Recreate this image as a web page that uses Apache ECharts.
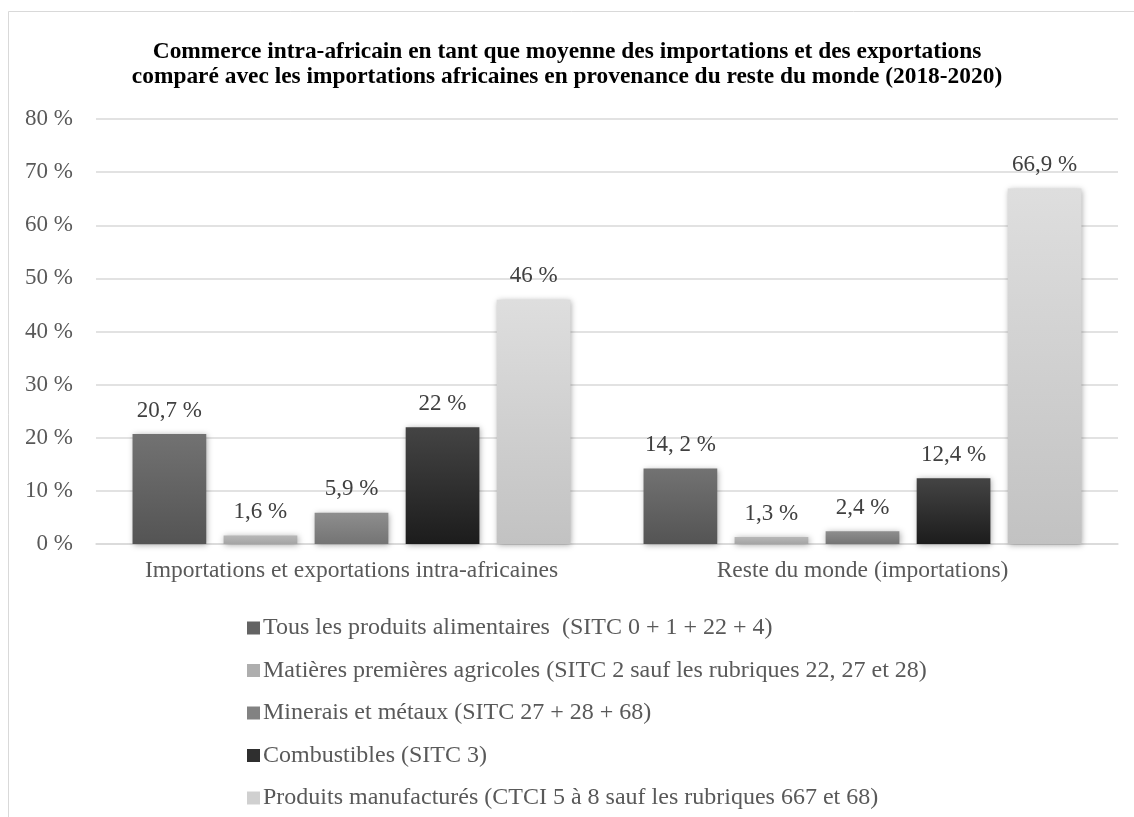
<!DOCTYPE html>
<html><head><meta charset="utf-8">
<script src="https://cdn.jsdelivr.net/npm/echarts@6/dist/echarts.min.js"></script>
<style>html,body{margin:0;padding:0;background:#fff}#c{width:1134px;height:817px}</style>
</head><body><div id="c"></div>
<script>
var titleText = 'Commerce intra-africain en tant que moyenne des importations et des exportations\ncomparé avec les importations africaines en provenance du reste du monde (2018-2020)';
var categories = ['Importations et exportations intra-africaines', 'Reste du monde (importations)'];
var seriesNames = [
  'Tous les produits alimentaires  (SITC 0 + 1 + 22 + 4)',
  'Matières premières agricoles (SITC 2 sauf les rubriques 22, 27 et 28)',
  'Minerais et métaux (SITC 27 + 28 + 68)',
  'Combustibles (SITC 3)',
  'Produits manufacturés (CTCI 5 à 8 sauf les rubriques 667 et 68)'
];
var foodValues = [20.7, 14.2];
var agriValues = [1.6, 1.3];
var mineralValues = [5.9, 2.4];
var fuelValues = [22, 12.4];
var manufValues = [46, 66.9];
var foodLabels = ['20,7 %', '14, 2 %'];
var agriLabels = ['1,6 %', '1,3 %'];
var mineralLabels = ['5,9 %', '2,4 %'];
var fuelLabels = ['22 %', '12,4 %'];
var manufLabels = ['46 %', '66,9 %'];
var yTicks = [0, 10, 20, 30, 40, 50, 60, 70, 80];

var allValues = [foodValues, agriValues, mineralValues, fuelValues, manufValues];
var allLabels = [foodLabels, agriLabels, mineralLabels, fuelLabels, manufLabels];
var gradients = [
  ['#727272', '#545454'],
  ['#b8b8b8', '#a4a4a4'],
  ['#8e8e8e', '#747474'],
  ['#444444', '#1c1c1c'],
  ['#dedede', '#c2c2c2']
];
var legendColors = ['#636363', '#aeaeae', '#828282', '#2f2f2f', '#d0d0d0'];
var FONT = '"Liberation Serif", "Times New Roman", serif';

var chart = echarts.init(document.getElementById('c'));
var series = allValues.map(function (vals, i) {
  return {
    name: seriesNames[i],
    type: 'bar',
    data: vals.map(function (v, j) { return { value: v, labelText: allLabels[i][j] }; }),
    barGap: '23.5%',
    barCategoryGap: '14.3%',
    itemStyle: {
      color: new echarts.graphic.LinearGradient(0, 0, 0, 1, [
        { offset: 0, color: gradients[i][0] },
        { offset: 1, color: gradients[i][1] }
      ]),
      shadowColor: 'rgba(0,0,0,0.35)',
      shadowBlur: 6,
      shadowOffsetX: 1,
      shadowOffsetY: 1
    },
    label: {
      show: true,
      position: 'top',
      distance: 12,
      fontFamily: FONT,
      fontSize: 23,
      color: '#404040',
      formatter: function (p) { return p.data.labelText; }
    }
  };
});

chart.setOption({
  backgroundColor: '#fff',
  animation: false,
  title: {
    text: titleText,
    left: 'center',
    top: 34,
    textStyle: { fontFamily: FONT, fontSize: 23.4, fontWeight: 'bold', color: '#000', lineHeight: 25 }
  },
  graphic: [{
    type: 'rect',
    shape: { x: 8.5, y: 11.5, width: 1140, height: 830 },
    style: { fill: 'none', stroke: '#d9d9d9', lineWidth: 1 },
    silent: true
  }],
  legend: {
    orient: 'vertical',
    left: 242,
    top: 611,
    itemGap: 18.5,
    itemWidth: 13,
    itemHeight: 13,
    icon: 'rect',
    textStyle: { fontFamily: FONT, fontSize: 24, lineHeight: 24, color: '#595959', padding: [0, 0, 0, -2] },
    data: seriesNames.map(function (n, i) { return { name: n, itemStyle: { color: legendColors[i] } }; })
  },
  grid: { left: 96, right: 16, top: 119, bottom: 273, containLabel: false },
  xAxis: {
    type: 'category',
    data: categories,
    axisLine: { show: true, lineStyle: { color: '#d9d9d9', width: 1.5 } },
    axisTick: { show: false },
    axisLabel: { interval: 0, fontFamily: FONT, fontSize: 23.5, color: '#595959', margin: 15 }
  },
  yAxis: {
    type: 'value',
    min: 0,
    max: 80,
    interval: 10,
    axisLine: { show: false },
    axisTick: { show: false },
    splitLine: { lineStyle: { color: '#d9d9d9', width: 1.5 } },
    axisLabel: {
      fontFamily: FONT, fontSize: 23, color: '#595959', margin: 23,
      formatter: function (v) { return yTicks.indexOf(v) >= 0 ? v + ' %' : ''; }
    }
  },
  series: series
});
</script></body></html>
